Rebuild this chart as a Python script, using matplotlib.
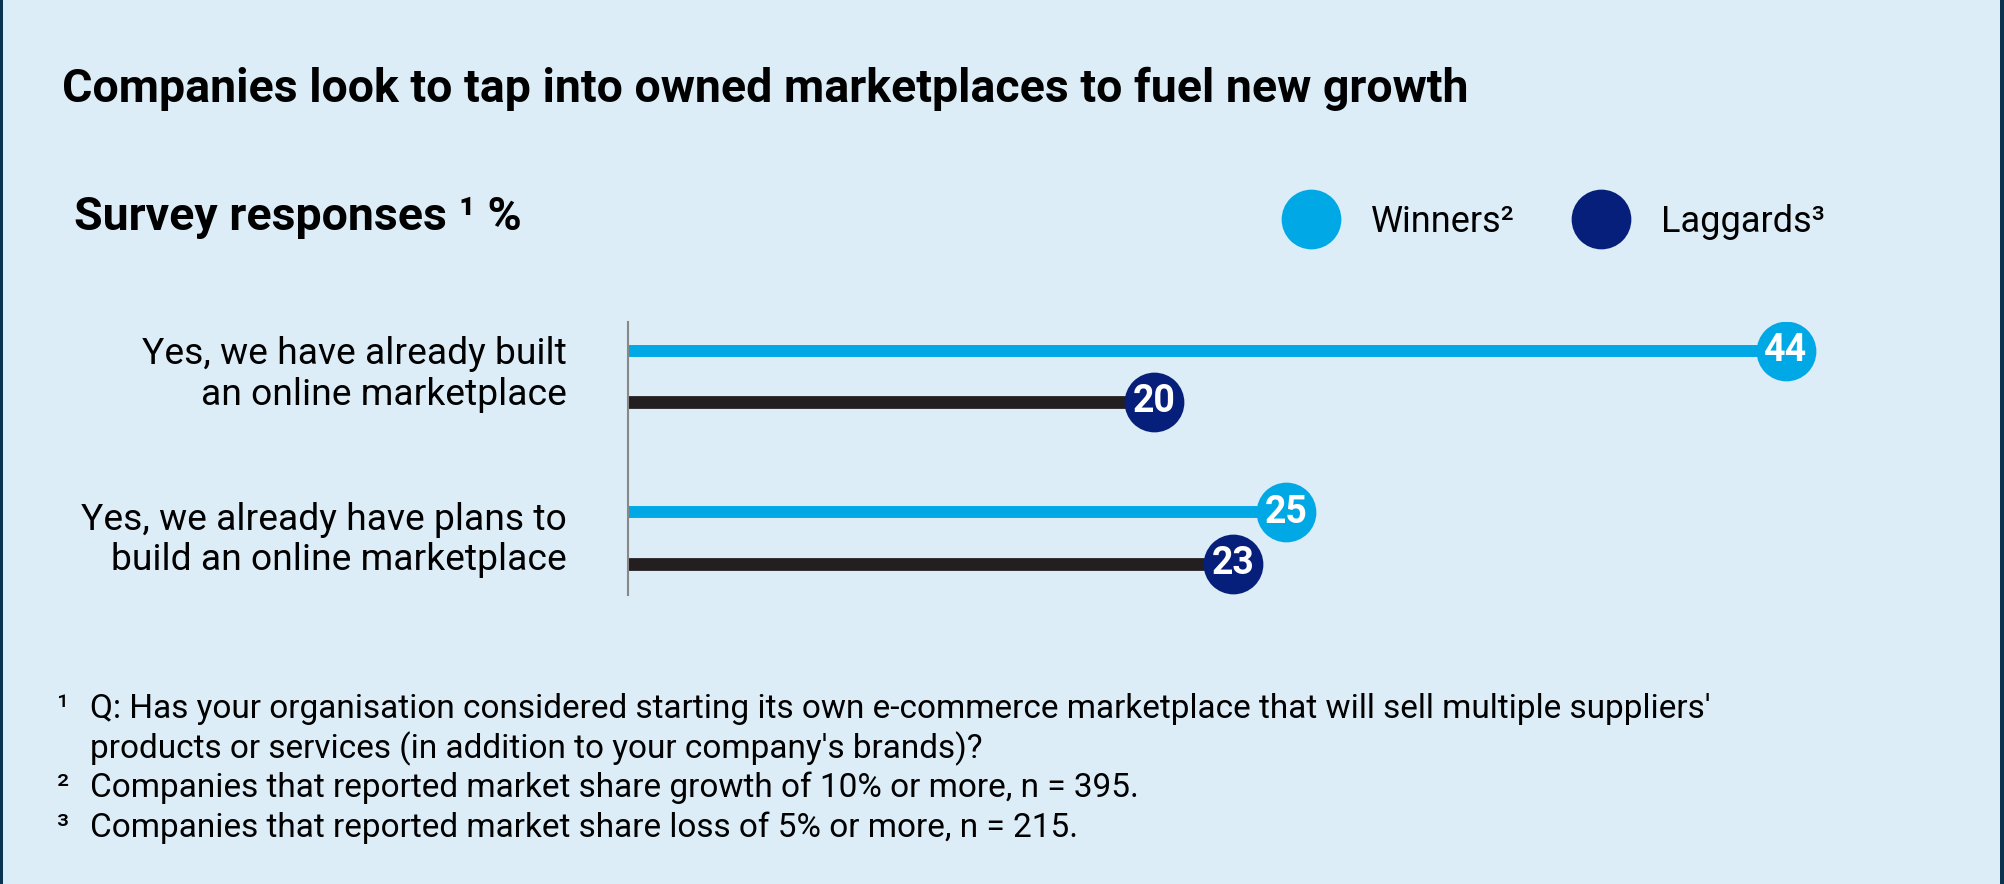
import matplotlib.pyplot as plt
from matplotlib.lines import Line2D
from matplotlib.patches import Rectangle

# data
categories = ["Yes, we have already built\nan online marketplace",
              "Yes, we already have plans to\nbuild an online marketplace"]
winners = [44, 25]
laggards = [20, 23]

title = "Companies look to tap into owned marketplaces to fuel new growth"
subtitle = "Survey responses \u00b9 %"
fn_marks = ["\u00b9", "", "\u00b2", "\u00b3"]
fn_lines = ["Q: Has your organisation considered starting its own e-commerce marketplace that will sell multiple suppliers'",
            "products or services (in addition to your company's brands)?",
            "Companies that reported market share growth of 10% or more, n = 395.",
            "Companies that reported market share loss of 5% or more, n = 215."]

bg = '#dcedf8'
c_win = '#00a9e6'
c_lag_bar = '#231f20'
c_lag_dot = '#061f7a'

plt.rcParams['font.family'] = ['Roboto', 'DejaVu Sans']

W, H = 2004, 884
fig = plt.figure(figsize=(W / 100, H / 100), dpi=100, facecolor=bg)

# dark edges
fig.add_artist(Rectangle((0, 0), 3 / W, 1, transform=fig.transFigure, color='#0b3350', lw=0))
fig.add_artist(Rectangle((2000 / W, 0), 4 / W, 1, transform=fig.transFigure, color='#0b3350', lw=0))

fig.text(62 / W, 1 - 102 / H, title, fontsize=33.5, fontweight='bold', va='baseline', ha='left')
fig.text(74 / W, 1 - 230 / H, subtitle, fontsize=33.5, fontweight='bold', va='baseline', ha='left')

# chart area
ax = fig.add_axes([628 / W, 1 - 595 / H, 1368 / W, 273 / H])
ax.set_facecolor('none')
ax.set_xlim(0, 52)
ax.set_ylim(1.353, -0.337)
off = 0.158
label_dy = [0.175, 0.2]
for i in range(len(categories)):
    ax.hlines(i - off, 0, winners[i], color=c_win, lw=8.6, zorder=2)
    ax.hlines(i + off, 0, laggards[i], color=c_lag_bar, lw=9.2, zorder=2)
    ax.scatter(winners[i], i - off, s=1850, color=c_win, zorder=3, lw=0)
    ax.scatter(laggards[i], i + off, s=1850, color=c_lag_dot, zorder=3, lw=0)
    ax.text(winners[i], i - off, str(winners[i]), color='white', fontsize=27, fontweight='bold',
            ha='center', va='center', zorder=4)
    ax.text(laggards[i], i + off, str(laggards[i]), color='white', fontsize=27, fontweight='bold',
            ha='center', va='center', zorder=4)
    ax.text(-61 / 1368, i + label_dy[i], categories[i], transform=ax.get_yaxis_transform(),
            ha='right', va='baseline', fontsize=26.8, linespacing=1.17, multialignment='right')

for s in ['top', 'right', 'bottom']:
    ax.spines[s].set_visible(False)
ax.spines['left'].set_color('#888888')
ax.spines['left'].set_linewidth(1.5)
ax.set_xticks([])
ax.set_yticks([])

# legend
handles = [Line2D([], [], marker='o', ls='', markersize=43, color=c_win, mew=0),
           Line2D([], [], marker='o', ls='', markersize=43, color=c_lag_dot, mew=0)]
fig.legend(handles, ["Winners\u00b2", "Laggards\u00b3"], loc='center left',
           bbox_to_anchor=(1281 / W, 1 - 222 / H), frameon=False, ncol=2, fontsize=26,
           borderpad=0, borderaxespad=0, handlelength=1.65, handletextpad=0.85,
           columnspacing=1.55)

# footnotes
ys = [718, 758, 797, 837]
for mark, txt, y in zip(fn_marks, fn_lines, ys):
    if mark:
        fig.text(57 / W, 1 - y / H, mark, fontsize=24, va='baseline', ha='left')
    fig.text(90 / W, 1 - y / H, txt, fontsize=24, va='baseline', ha='left')

fig.savefig('out.png', dpi=100, facecolor=bg)
